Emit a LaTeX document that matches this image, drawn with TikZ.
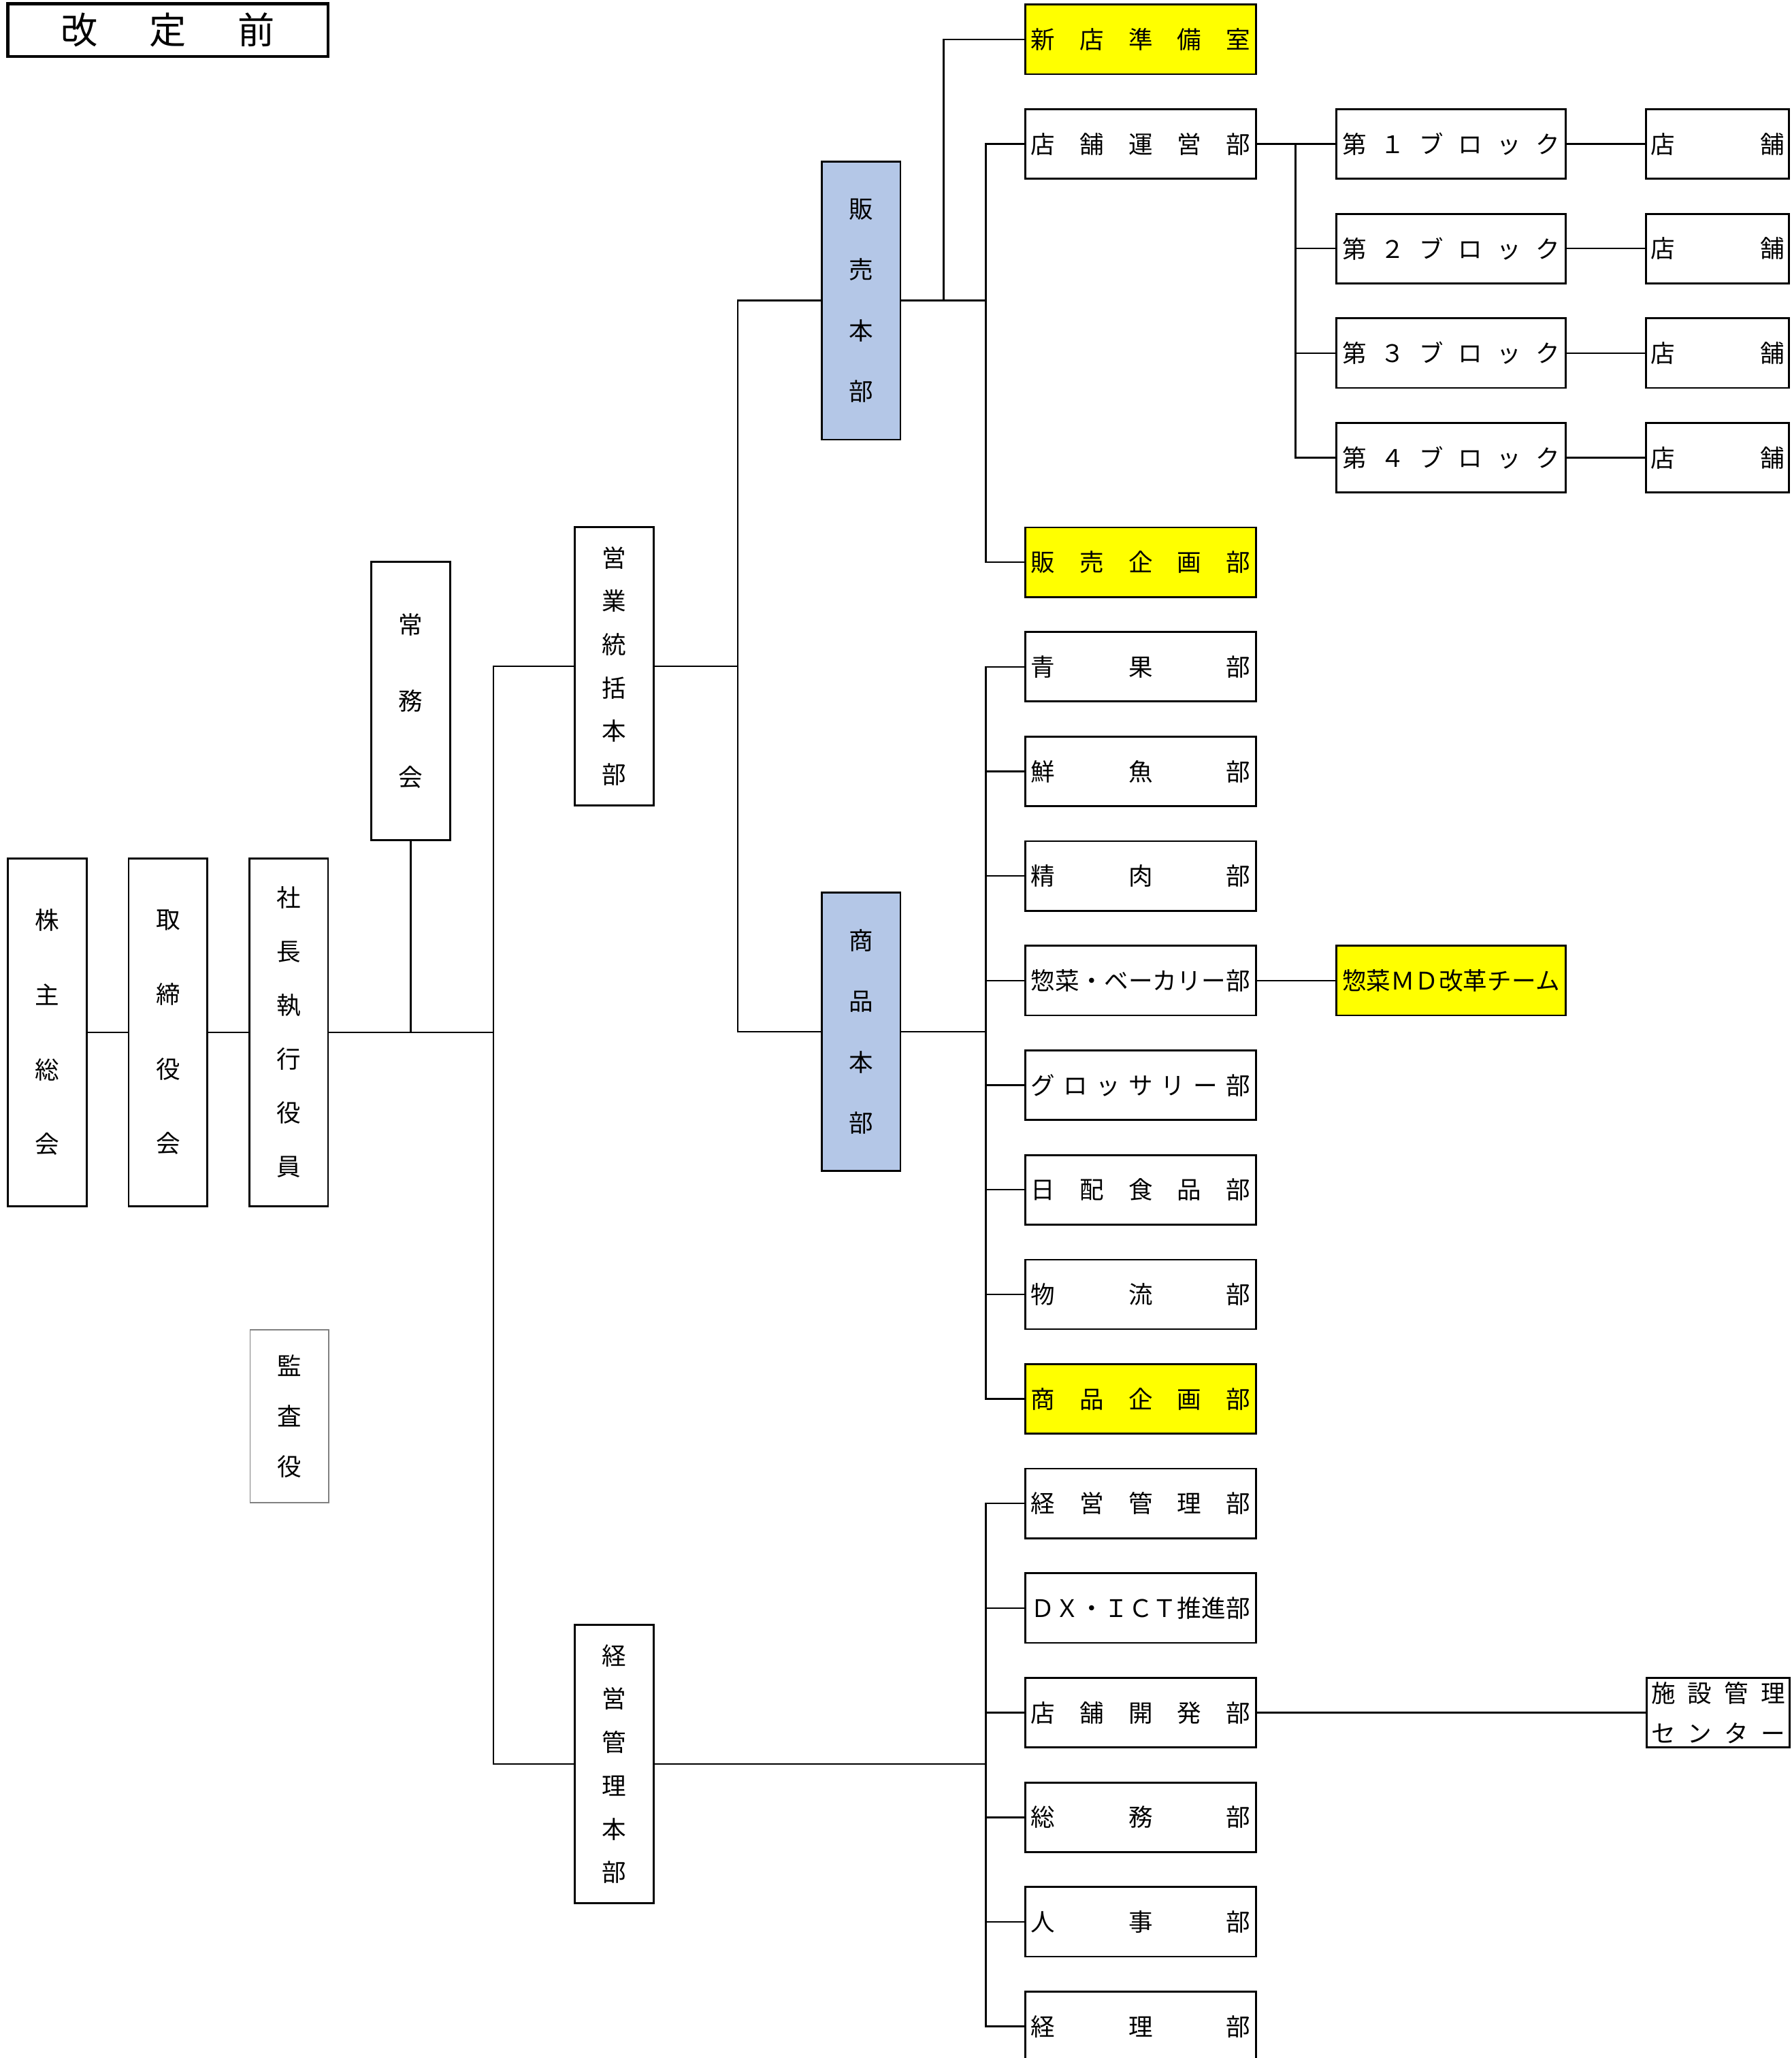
\documentclass[tikz,border=0pt]{standalone}
\usepackage{fontspec}
\setmainfont{Noto Sans CJK JP}
\definecolor{honbublue}{RGB}{180,199,231}
\definecolor{shinkiyellow}{RGB}{255,255,0}
\newcommand{\fillrow}[2]{\hbox to #1{#2}}

\begin{document}
\begin{tikzpicture}[x=0.02cm, y=-0.02cm,
    every node/.style={inner sep=0pt, font=\fontsize{10.5}{13}\selectfont},
    lead/.style={font=\fontsize{10.5}{#1}\selectfont},
    tate/.style={draw, line width=0.8pt, minimum width=1.2cm, minimum height=#1, align=center},
    yoko/.style={draw, line width=0.8pt, minimum width=3.52cm, minimum height=1.06cm},
    mise/.style={yoko, minimum width=2.18cm},
    honbu/.style={fill=honbublue},
    shinki/.style={fill=shinkiyellow},
    sen/.style={line width=0.7pt}]
    \useasboundingbox (0,0) rectangle (1365,1568);

    % Title
    \node[draw, line width=1.4pt, minimum width=4.88cm, minimum height=0.8cm,
          font=\fontsize{16}{18}\selectfont] (title) at (128,23)
          {\fillrow{3.26cm}{改\hfill 定\hfill 前}};

    % Left column
    \node[tate=5.3cm, lead=32.4pt] (kabunushi) at (36,786.5) {株\\主\\総\\会};
    \node[tate=5.3cm, lead=32.4pt] (torishimari) at (128,786.5) {取\\締\\役\\会};
    \node[tate=5.3cm, lead=23.3pt] (shacho) at (220,786.5) {社\\長\\執\\行\\役\\員};
    \node[tate=2.64cm, lead=21.9pt, draw=gray, line width=0.5pt] (kansa) at (220.5,1079) {監\\査\\役};
    \node[tate=4.24cm, lead=33pt] (jomu) at (313,534) {常\\務\\会};

    % Head offices
    \node[tate=4.24cm, lead=18.8pt] (eigyo) at (468,507.5) {営\\業\\統\\括\\本\\部};
    \node[tate=4.24cm, lead=18.8pt] (keiei) at (468,1344) {経\\営\\管\\理\\本\\部};
    \node[tate=4.24cm, lead=26.4pt, honbu] (hanbai) at (656,229) {販\\売\\本\\部};
    \node[tate=4.24cm, lead=26.4pt, honbu] (shohin) at (656,786) {商\\品\\本\\部};

    % Departments
    \node[yoko, shinki] (shinten) at (869,30) {\fillrow{3.34cm}{新\hfill 店\hfill 準\hfill 備\hfill 室}};
    \node[yoko] (tenpo) at (869,109.7) {\fillrow{3.34cm}{店\hfill 舗\hfill 運\hfill 営\hfill 部}};
    \node[yoko, shinki] (hkikaku) at (869,428.4) {\fillrow{3.34cm}{販\hfill 売\hfill 企\hfill 画\hfill 部}};
    \node[yoko] (seika) at (869,508) {\fillrow{3.34cm}{青\hfill 果\hfill 部}};
    \node[yoko] (sengyo) at (869,587.8) {\fillrow{3.34cm}{鮮\hfill 魚\hfill 部}};
    \node[yoko] (seiniku) at (869,667.4) {\fillrow{3.34cm}{精\hfill 肉\hfill 部}};
    \node[yoko] (sozai) at (869,747.1) {\fillrow{3.34cm}{惣\hfill 菜\hfill ・\hfill ベ\hfill ー\hfill カ\hfill リ\hfill ー\hfill 部}};
    \node[yoko] (grocery) at (869,826.8) {\fillrow{3.34cm}{グ\hfill ロ\hfill ッ\hfill サ\hfill リ\hfill ー\hfill 部}};
    \node[yoko] (nippai) at (869,906.5) {\fillrow{3.34cm}{日\hfill 配\hfill 食\hfill 品\hfill 部}};
    \node[yoko] (butsuryu) at (869,986.2) {\fillrow{3.34cm}{物\hfill 流\hfill 部}};
    \node[yoko, shinki] (skikaku) at (869,1065.8) {\fillrow{3.34cm}{商\hfill 品\hfill 企\hfill 画\hfill 部}};
    \node[yoko] (keikan) at (869,1145.5) {\fillrow{3.34cm}{経\hfill 営\hfill 管\hfill 理\hfill 部}};
    \node[yoko] (dx) at (869,1225.2) {\fillrow{3.34cm}{Ｄ\hfill Ｘ\hfill ・\hfill Ｉ\hfill Ｃ\hfill Ｔ\hfill 推\hfill 進\hfill 部}};
    \node[yoko] (kaihatsu) at (869,1304.9) {\fillrow{3.34cm}{店\hfill 舗\hfill 開\hfill 発\hfill 部}};
    \node[yoko] (somu) at (869,1384.6) {\fillrow{3.34cm}{総\hfill 務\hfill 部}};
    \node[yoko] (jinji) at (869,1464.2) {\fillrow{3.34cm}{人\hfill 事\hfill 部}};
    \node[yoko] (keiri) at (869,1543.9) {\fillrow{3.34cm}{経\hfill 理\hfill 部}};

    % Blocks and stores
    \node[yoko, minimum width=3.5cm] (block1) at (1105.5,109.7) {\fillrow{3.32cm}{第\hfill １\hfill ブ\hfill ロ\hfill ッ\hfill ク}};
    \node[yoko, minimum width=3.5cm] (block2) at (1105.5,189.4) {\fillrow{3.32cm}{第\hfill ２\hfill ブ\hfill ロ\hfill ッ\hfill ク}};
    \node[yoko, minimum width=3.5cm] (block3) at (1105.5,269) {\fillrow{3.32cm}{第\hfill ３\hfill ブ\hfill ロ\hfill ッ\hfill ク}};
    \node[yoko, minimum width=3.5cm] (block4) at (1105.5,348.7) {\fillrow{3.32cm}{第\hfill ４\hfill ブ\hfill ロ\hfill ッ\hfill ク}};
    \foreach \i/\y in {1/109.7, 2/189.4, 3/269, 4/348.7}
        \node[mise] (store\i) at (1308.5,\y) {\fillrow{2.04cm}{店\hfill 舗}};

    \node[yoko, shinki, minimum width=3.5cm] (sozaimd) at (1105.5,747.1) {\fillrow{3.32cm}{惣\hfill 菜\hfill Ｍ\hfill Ｄ\hfill 改\hfill 革\hfill チ\hfill ー\hfill ム}};
    \node[mise, align=center, lead=17.6pt] (shisetsu) at (1309,1304.9)
        {\fillrow{2.04cm}{施\hfill 設\hfill 管\hfill 理}\\\fillrow{2.04cm}{セ\hfill ン\hfill タ\hfill ー}};

    % Connectors
    \coordinate (trunk) at (376,786.5);
    \coordinate (eb) at (562,507.5);
    \coordinate (hs) at (719,229);
    \coordinate (hb) at (751,229);
    \coordinate (sb) at (751,786);
    \coordinate (kb) at (751,1344);
    \coordinate (tb) at (987,109.7);

    \draw[sen] (kabunushi.east) -- (torishimari.west);
    \draw[sen] (torishimari.east) -- (shacho.west);
    \draw[sen] (shacho.east) -- (trunk);
    \draw[sen] (jomu.south) -- (jomu.south |- trunk);
    \draw[sen] (eigyo.west) -| (trunk) |- (keiei.west);

    \draw[sen] (eigyo.east) -- (eb);
    \draw[sen] (hanbai.west) -| (eb) |- (shohin.west);

    \draw[sen] (hanbai.east) -- (hb);
    \draw[sen] (shinten.west) -| (hs);
    \draw[sen] (tenpo.west) -| (hb) |- (hkikaku.west);

    \draw[sen] (shohin.east) -- (sb);
    \draw[sen] (seika.west) -| (sb) |- (skikaku.west);
    \foreach \d in {sengyo, seiniku, sozai, grocery, nippai, butsuryu}
        \draw[sen] (\d.west) -- (\d.west -| sb);

    \draw[sen] (keiei.east) -- (kb);
    \draw[sen] (keikan.west) -| (kb) |- (keiri.west);
    \foreach \d in {dx, kaihatsu, somu, jinji}
        \draw[sen] (\d.west) -- (\d.west -| kb);

    \draw[sen] (tenpo.east) -- (block1.west);
    \draw[sen] (tb) |- (block4.west);
    \foreach \i in {2,3}
        \draw[sen] (block\i.west) -- (block\i.west -| tb);
    \foreach \i in {1,...,4}
        \draw[sen] (block\i.east) -- (store\i.west);

    \draw[sen] (sozai.east) -- (sozaimd.west);
    \draw[sen] (kaihatsu.east) -- (shisetsu.west);
\end{tikzpicture}
\end{document}
